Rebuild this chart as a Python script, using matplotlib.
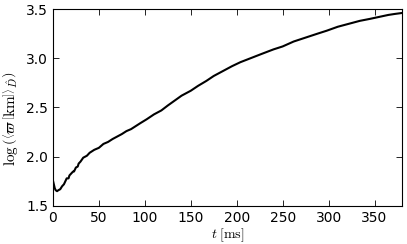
import matplotlib
matplotlib.use("Agg")
from matplotlib import pyplot as plt

# values
t_ms = [0, 1, 2, 3, 4.5, 6, 8, 10, 12, 14, 15, 17, 18, 20, 22, 23, 25, 27,
        28, 30, 33, 37, 40, 45, 50, 55, 60, 65, 69, 75, 80, 85, 90, 95, 102,
        110, 118, 125, 131, 140, 150, 158, 167, 175, 185, 195, 204, 215, 226,
        240, 250, 262, 275, 288, 298, 310, 322, 334, 345, 355, 365, 372, 380]
log_r = [1.76, 1.72, 1.68, 1.66, 1.65, 1.66, 1.67, 1.70, 1.72, 1.76, 1.78,
         1.78, 1.81, 1.83, 1.85, 1.85, 1.89, 1.90, 1.93, 1.95, 1.99, 2.01,
         2.04, 2.07, 2.09, 2.13, 2.15, 2.18, 2.20, 2.23, 2.26, 2.28, 2.31,
         2.34, 2.38, 2.43, 2.47, 2.52, 2.56, 2.62, 2.67, 2.72, 2.77, 2.82,
         2.87, 2.92, 2.96, 3.00, 3.04, 3.09, 3.12, 3.17, 3.21, 3.25, 3.28,
         3.32, 3.35, 3.38, 3.40, 3.42, 3.44, 3.45, 3.46]

plt.rcParams["mathtext.fontset"] = "cm"
plt.rcParams["font.size"] = 10

fig = plt.figure(figsize=(4.07, 2.44), dpi=100)
ax = fig.add_axes([0.130, 0.156, 0.858, 0.807])
ax.plot(t_ms, log_r, color="black", linewidth=1.5)

ax.set_xlim(0, 380)
ax.set_ylim(1.5, 3.5)
ax.set_xticks([0, 50, 100, 150, 200, 250, 300, 350])
ax.set_yticks([1.5, 2.0, 2.5, 3.0, 3.5])
ax.tick_params(direction="in", top=True, right=True, length=4, width=0.6)
for s in ax.spines.values():
    s.set_linewidth(0.8)

ax.set_xlabel(r"$t\;[\mathrm{ms}]$", fontsize=10, labelpad=1)
ax.set_ylabel(r"$\log\left(\left\langle\varpi\,\left[\mathrm{km}\right]\right\rangle_{\hat{D}}\right)$",
              fontsize=11, va="center")
ax.yaxis.set_label_coords(-0.122, 0.44)

fig.savefig("out.png", dpi=100)
